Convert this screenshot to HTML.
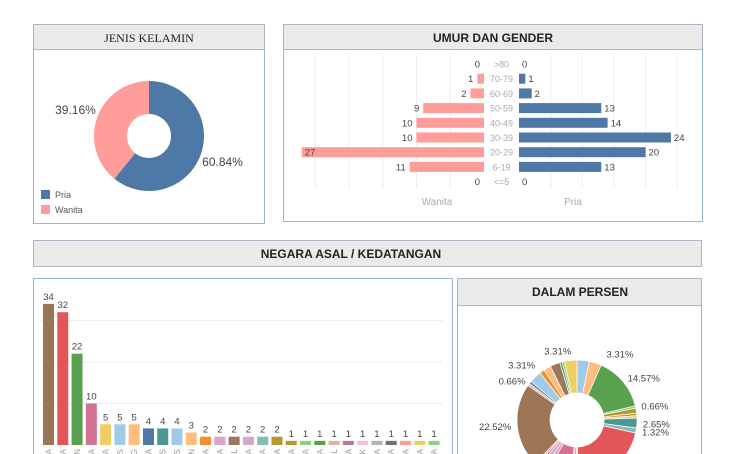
<!DOCTYPE html>
<html><head><meta charset="utf-8"><style>
body{margin:0;background:#fff;width:736px;height:454px;overflow:hidden;font-family:"Liberation Sans",sans-serif}
svg{overflow:hidden;display:block}
svg text{font-family:"Liberation Sans",sans-serif}
</style></head><body>
<svg id="s" width="736" height="454" xmlns="http://www.w3.org/2000/svg">
<g>
<rect x="33.5" y="24.5" width="231" height="199" fill="#fff" stroke="#9fb4cf"/>
<rect x="33.5" y="24.5" width="231" height="25" fill="#ebebeb" stroke="#aab6c4"/>
<text x="149" y="42" text-anchor="middle" font-size="12" style="font-family:'Liberation Serif',serif" fill="#222">JENIS KELAMIN</text>
<g id="pie"></g>
<rect x="41" y="190" width="9" height="9" fill="#4e79a7"/>
<text x="55" y="198" font-size="9" fill="#555">Pria</text>
<rect x="41" y="205" width="9" height="9" fill="#ff9d9a"/>
<text x="55" y="213" font-size="9" fill="#555">Wanita</text>
</g>
<g>
<rect x="283.5" y="24.5" width="419" height="197" fill="#fff" stroke="#9fb4cf"/>
<rect x="283.5" y="24.5" width="419" height="25" fill="#ebebeb" stroke="#aab6c4"/>
<text x="493" y="42" text-anchor="middle" font-size="12" font-weight="bold" fill="#222">UMUR DAN GENDER</text>
<g id="pyr"></g>
<text x="437" y="205" text-anchor="middle" font-size="10" fill="#aaa">Wanita</text>
<text x="573" y="205" text-anchor="middle" font-size="10" fill="#aaa">Pria</text>
</g>
<g>
<rect x="33.5" y="240.5" width="668" height="26" fill="#ebebeb" stroke="#aab6c4"/>
<text x="351" y="258" text-anchor="middle" font-size="12" font-weight="bold" fill="#222">NEGARA ASAL / KEDATANGAN</text>
</g>
<g>
<rect x="33.5" y="278.5" width="419" height="180" fill="#fff" stroke="#9fb4cf"/>
<g id="bars"></g>
</g>
<g>
<rect x="457.5" y="278.5" width="244" height="180" fill="#fff" stroke="#9fb4cf"/>
<rect x="457.5" y="278.5" width="244" height="27" fill="#ebebeb" stroke="#aab6c4"/>
<text x="580" y="296" text-anchor="middle" font-size="12" font-weight="bold" fill="#222">DALAM PERSEN</text>
<g id="donut"></g>
</g>
</svg>
<script>
const genderLabels=["Pria","Wanita"];
const genderValues=[60.84,39.16];
const genderColors=["#4e79a7","#ff9d9a"];
const ageLabels=[">80","70-79","60-69","50-59","40-49","30-39","20-29","6-19","<=5"];
const wanitaValues=[0,1,2,9,10,10,27,11,0];
const priaValues=[0,1,2,13,14,24,20,13,0];
const countryNames=["INDONESIA","AMERIKA","JERMAN","AUSTRALIA","BELANDA","PERANCIS","JEPANG","KANADA","INGGRIS","SWISS","TAIWAN","KOREA","BELGIA","SPANYOL","CINA","RUSIA","FILIPINA","INDIA","ITALIA","SWEDIA","BRASIL","NORWEGIA","DENMARK","FINLANDIA","MALAYSIA","SINGAPURA","AUSTRIA","IRLANDIA"];
const countryValues=[34,32,22,10,5,5,5,4,4,4,3,2,2,2,2,2,2,1,1,1,1,1,1,1,1,1,1,1];
const countryColors=["#9c7557","#e15759","#59a14f","#d37295","#f1ce63","#a0cbe8","#ffbe7d","#4e79a7","#499894","#a0cbe8","#ffbe7d","#f28e2b","#d4a6c8","#9d7660","#d4a6c8","#86bcb6","#b6992d","#b6992d","#8cd17d","#59a14f","#d7b5a6","#b07aa1","#fabfd2","#bab0ac","#79706e","#ff9d9a","#f1ce63","#8cd17d"];
const donutValues=[5,5,22,1,2,1,1,4,2,32,1,1,1,10,2,2,1,1,34,1,1,5,2,3,4,1,1,5];
const donutColors=["#a0cbe8","#ffbe7d","#59a14f","#8cd17d","#b6992d","#b6992d","#f1ce63","#499894","#86bcb6","#e15759","#bab0ac","#79706e","#fabfd2","#d37295","#d4a6c8","#d4a6c8","#b07aa1","#ff9d9a","#9c7557","#d7b5a6","#4e79a7","#a0cbe8","#f28e2b","#ffbe7d","#9d7660","#59a14f","#8cd17d","#f1ce63"];
const donutLabelled=[1,2,3,7,8,18,20,21,27];
const NS="http://www.w3.org/2000/svg";
function mk(p,t,a){const e=document.createElementNS(NS,t);for(const k in a)e.setAttribute(k,a[k]);p.appendChild(e);return e;}
function arc(cx,cy,r0,r1,a0,a1){const p=(r,a)=>[cx+r*Math.sin(a),cy-r*Math.cos(a)];const l=a1-a0>Math.PI?1:0;
const [x0,y0]=p(r1,a0),[x1,y1]=p(r1,a1),[x2,y2]=p(r0,a1),[x3,y3]=p(r0,a0);
return `M${x0},${y0}A${r1},${r1} 0 ${l} 1 ${x1},${y1}L${x2},${y2}A${r0},${r0} 0 ${l} 0 ${x3},${y3}Z`;}
(function(){const g=document.getElementById('pie');const tot=genderValues.reduce((a,b)=>a+b,0);let a=0;
genderValues.forEach((v,i)=>{const a1=a+v/tot*2*Math.PI;const e=mk(g,'path',{d:arc(149,136,22,55,a,a1),fill:genderColors[i]});


const m=(a+a1)/2;const tx=149+78*Math.sin(m),ty=136-78*Math.cos(m)+4;
const t=mk(g,'text',{x:tx,y:ty,'text-anchor':'middle','font-size':'12',fill:'#444'});t.textContent=v.toFixed(2)+'%';


a=a1;});})();
(function(){const g=document.getElementById('pyr');const xw0=484,xp0=519,sw=6.75,sp=6.33,y0=64,step=14.7,bh=10;
for(let k=1;k<=5;k++){const l=mk(g,'line',{x1:xw0-k*5*sw,x2:xw0-k*5*sw,y1:55,y2:188,stroke:'#eee'});}
for(let k=1;k<=5;k++){const l=mk(g,'line',{x1:xp0+k*5*sp,x2:xp0+k*5*sp,y1:55,y2:188,stroke:'#eee'});}
ageLabels.forEach((lab,i)=>{const y=y0+i*step;
const t=mk(g,'text',{x:501.5,y:y+3.5,'text-anchor':'middle','font-size':'9',fill:'#aaa'});t.textContent=lab;

const w=wanitaValues[i]*sw;const b=mk(g,'rect',{x:xw0-w,y:y-bh/2,width:w,height:bh,fill:'#ff9d9a'});

const tw=mk(g,'text',{x:wanitaValues[i]>=20?xw0-w+3:xw0-w-4,y:y+3.5,'text-anchor':wanitaValues[i]>=20?'start':'end','font-size':'9.5',fill:'#444'});tw.textContent=wanitaValues[i];

const pw=priaValues[i]*sp;const c=mk(g,'rect',{x:xp0,y:y-bh/2,width:pw,height:bh,fill:'#4e79a7'});

const tp=mk(g,'text',{x:xp0+pw+3,y:y+3.5,'font-size':'9.5',fill:'#444'});tp.textContent=priaValues[i];
});})();
(function(){const g=document.getElementById('bars');const base=445,sc=4.15,x0=43,st=14.28,bw=11;
[10,20,30].forEach(v=>{const l=mk(g,'line',{x1:40,x2:443,y1:base-v*sc,y2:base-v*sc,stroke:'#eee'});});
countryValues.forEach((v,i)=>{const x=x0+i*st,h=v*sc;
const r=mk(g,'rect',{x:x,y:base-h,width:bw,height:h,fill:countryColors[i]});

const t=mk(g,'text',{x:x+bw/2,y:base-h-4,'text-anchor':'middle','font-size':'9.5',fill:'#444'});t.textContent=v;

const n=mk(g,'text',{x:0,y:0,'font-size':'8',fill:'#999','text-anchor':'end',transform:`translate(${x+bw/2+3},449) rotate(-90)`});n.textContent=countryNames[i];
});})();
(function(){const g=document.getElementById('donut');const cx=577,cy=420,tot=donutValues.reduce((a,b)=>a+b,0);let a=0;
donutValues.forEach((v,i)=>{const a1=a+v/tot*2*Math.PI;
const p=mk(g,'path',{d:arc(cx,cy,27,60,a,a1),fill:donutColors[i],stroke:'#fff','stroke-width':'0.7'});

if(donutLabelled.indexOf(i)>=0){const m=(a+a1)/2;const r=(Math.abs(Math.cos(m))>0.8)?70:66;let tx=cx+r*Math.sin(m),ty=cy-r*Math.cos(m)+4;
const anc=Math.sin(m)>0.25?'start':(Math.sin(m)<-0.25?'end':'middle');
if(i===1){tx+=8;} if(i===27){tx-=12;} if(i===21){ty-=8;tx+=4;} if(i===20){ty+=2;}
const t=mk(g,'text',{x:tx,y:ty,'text-anchor':anc,'font-size':'9.5',fill:'#444'});
t.textContent=(v/tot*100).toFixed(2)+'%';}
a=a1;});})();
</script>
</body></html>
